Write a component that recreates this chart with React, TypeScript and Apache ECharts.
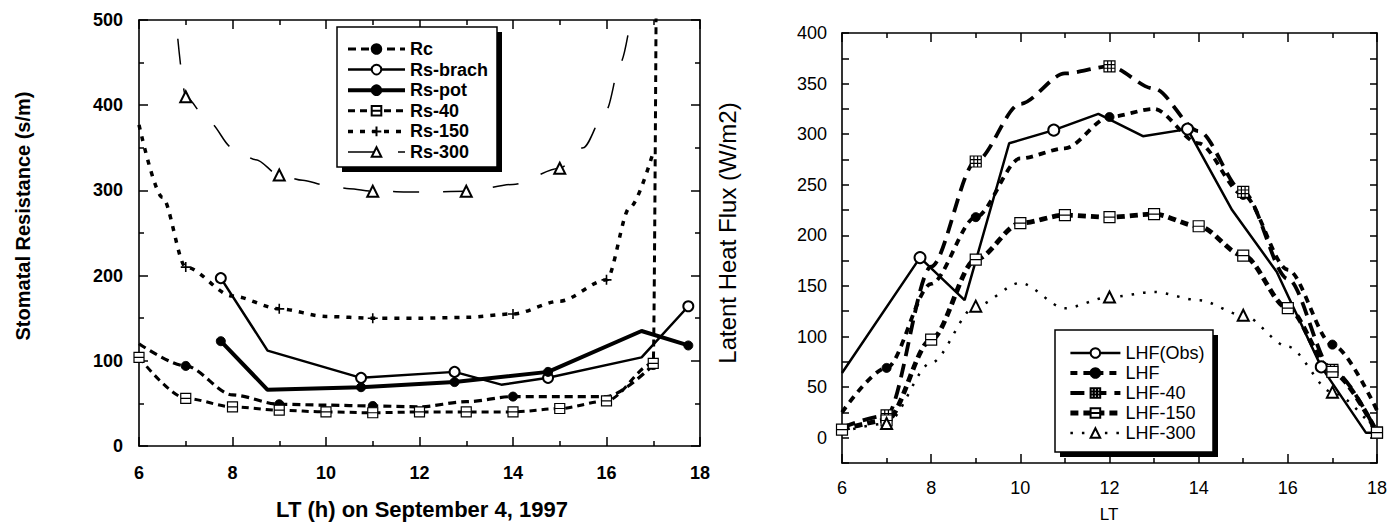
import React, { useEffect, useRef } from "react";
import * as echarts from "echarts";

const FONT = "'Liberation Sans', Arial, Helvetica, sans-serif";

// ---------- Left panel: stomatal resistance (s/m) ----------
const rcX = [6, 7, 8, 9, 10, 11, 12, 13, 14, 15, 16, 17];
const rcY = [120, 94, 60, 49, 48, 47, 46, 52, 58, 58, 58, 95];
const rcMarks = [7, 9, 11, 14, 17];

const brachX = [7.75, 8.75, 10.75, 12.75, 13.75, 14.75, 16.75, 17.75];
const brachY = [197, 112, 80, 87, 72, 80, 104, 164];
const brachMarks = [7.75, 10.75, 12.75, 14.75, 17.75];

const potX = [7.75, 8.75, 10.75, 12.75, 14.75, 16.75, 17.75];
const potY = [123, 66, 69, 75, 87, 135, 118];
const potMarks = [7.75, 10.75, 12.75, 14.75, 17.75];

const rs40X = [6, 7, 8, 9, 10, 11, 12, 13, 14, 15, 16, 17, 17.07];
const rs40Y = [104, 56, 46, 42, 40, 39, 40, 40, 40, 44, 53, 97, 600];
const rs40Marks = [6, 7, 8, 9, 10, 11, 12, 13, 14, 15, 16, 17];

const rs150X = [6, 6.5, 7, 8, 9, 10, 11, 12, 13, 14, 15, 16, 16.5, 17];
const rs150Y = [377, 292, 210, 176, 161, 152, 150, 150, 151, 155, 170, 195, 280, 345];
const rs150Marks = [7, 9, 11, 14, 16];

const rs300X = [6.83, 7, 7.5, 8, 8.5, 9, 9.5, 10, 10.5, 11, 12, 13, 14, 15, 15.5, 16, 16.3, 16.6];
const rs300Y = [478, 410, 380, 350, 336, 318, 312, 306, 302, 299, 298, 299, 307, 326, 350, 395, 450, 530];
const rs300Marks = [7, 9, 11, 13, 15];

const leftNames = ["Rc", "Rs-brach", "Rs-pot", "Rs-40", "Rs-150", "Rs-300"];

// ---------- Right panel: latent heat flux (W/m2) ----------
const obsX = [6, 7.75, 8.75, 9.75, 10.75, 11.75, 12.75, 13.75, 14.75, 15.75, 16.75, 17.75, 18];
const obsY = [64, 178, 136, 291, 304, 320, 298, 305, 225, 164, 70, 5, 5];
const obsMarks = [7.75, 10.75, 13.75, 16.75];

const hours = [6, 7, 8, 9, 10, 11, 12, 13, 14, 15, 16, 17, 18];
const lhfY = [25, 69, 152, 218, 276, 286, 317, 325, 291, 240, 166, 92, 27];
const lhfMarks = [7, 9, 12, 15, 17];
const lhf40Y = [10, 22, 169, 273, 330, 360, 367, 345, 303, 243, 157, 67, 5];
const lhf40Marks = [7, 9, 12, 15, 17, 18];
const lhf150Y = [8, 17, 97, 176, 212, 220, 218, 221, 209, 180, 128, 65, 5];
const lhf150Marks = [6, 7, 8, 9, 10, 11, 12, 13, 14, 15, 16, 17, 18];
const lhf300Y = [6, 14, 74, 130, 153, 128, 139, 144, 136, 121, 90, 45, 5];
const lhf300Marks = [7, 9, 12, 15, 17];

const rightNames = ["LHF(Obs)", "LHF", "LHF-40", "LHF-150", "LHF-300"];

// ---------- symbols ----------
const SYM_BOXH = "path://M0,0L10,0L10,10L0,10Z M0,5L10,5";
const SYM_GRID =
  "path://M0,0L10,0L10,10L0,10Z M0,3.33L10,3.33 M0,6.67L10,6.67 M3.33,0L3.33,10 M6.67,0L6.67,10";
const SYM_PLUS = "path://M5,0L5,10 M0,5L10,5";

function pts(xs: number[], ys: number[], marks: number[]) {
  return xs.map((x, i) =>
    marks.indexOf(x) >= 0 ? { value: [x, ys[i]] } : { value: [x, ys[i]], symbol: "none" }
  );
}

function mkSeries(
  name: string,
  idx: number,
  data: any[],
  symbol: string,
  size: number,
  width: number,
  type: any,
  smooth: number | boolean,
  item: any
) {
  return {
    type: "line",
    name,
    xAxisIndex: idx,
    yAxisIndex: idx,
    data,
    symbol,
    symbolSize: size,
    smooth,
    smoothMonotone: "x",
    clip: true,
    color: "#000",
    lineStyle: { color: "#000", width, type },
    itemStyle: item,
    emphasis: { disabled: true },
    z: 2,
  };
}

const openItem = { color: "#000", borderColor: "#000", borderWidth: 1.2 };
const filledItem = { color: "#000", borderColor: "#000", borderWidth: 1 };
const boxItem = { color: "#fff", borderColor: "#000", borderWidth: 1.2 };
const plusItem = { color: "rgba(0,0,0,0)", borderColor: "#000", borderWidth: 1.6 };

function axisCommon(bold: boolean, size: number, minor: boolean) {
  return {
    axisLine: { show: true, onZero: false, lineStyle: { color: "#000", width: 1.6 } },
    axisTick: { show: true, inside: true, length: 9, lineStyle: { color: "#000", width: 1.5 } },
    minorTick: { show: minor, splitNumber: 2, length: 5, lineStyle: { color: "#000", width: 1.5 } },
    splitLine: { show: false },
    minorSplitLine: { show: false },
    axisLabel: {
      color: "#000",
      fontFamily: FONT,
      fontSize: size,
      fontWeight: bold ? "bold" : "normal",
    },
  };
}

export default function App() {
  const ref = useRef<HTMLDivElement>(null);

  useEffect(() => {
    if (!ref.current) return;
    const chart = echarts.init(ref.current, undefined, { renderer: "svg" });

    const lc = axisCommon(true, 18, true);
    const rc = axisCommon(false, 18, true);
    const ry = axisCommon(false, 18, false);
    ry.axisTick.length = 7;

    const option: any = {
      animation: false,
      backgroundColor: "#fff",
      grid: [
        { left: 139, top: 20, width: 561, height: 426 },
        { left: 842, top: 33, width: 538, height: 430 },
      ],
      xAxis: [
        {
          ...lc,
          gridIndex: 0,
          type: "value",
          min: 6,
          max: 18,
          interval: 2,
          position: "bottom",
          axisLabel: { ...lc.axisLabel, margin: 18 },
        },
        {
          ...rc,
          gridIndex: 1,
          type: "value",
          min: 6,
          max: 18,
          interval: 2,
          position: "bottom",
          axisLabel: { ...rc.axisLabel, margin: 16 },
        },
        {
          ...lc,
          gridIndex: 0,
          type: "value",
          min: 6,
          max: 18,
          interval: 2,
          position: "top",
          axisLabel: { show: false },
        },
        {
          ...rc,
          gridIndex: 1,
          type: "value",
          min: 6,
          max: 18,
          interval: 2,
          position: "top",
          axisLabel: { show: false },
        },
      ],
      yAxis: [
        {
          ...lc,
          gridIndex: 0,
          type: "value",
          min: 0,
          max: 500,
          interval: 100,
          position: "left",
          axisLabel: { ...lc.axisLabel, margin: 16 },
        },
        {
          ...ry,
          gridIndex: 1,
          type: "value",
          min: -25,
          max: 400,
          interval: 25,
          position: "left",
          axisLabel: {
            ...ry.axisLabel,
            margin: 15,
            formatter: (v: number) => (v >= 0 && Math.round(v) % 50 === 0 ? String(v) : ""),
          },
        },
        {
          ...lc,
          gridIndex: 0,
          type: "value",
          min: 0,
          max: 500,
          interval: 100,
          position: "right",
          axisLabel: { show: false },
        },
        {
          ...ry,
          gridIndex: 1,
          type: "value",
          min: -25,
          max: 400,
          interval: 25,
          position: "right",
          axisLabel: { show: false },
        },
      ],
      legend: [
        {
          data: leftNames,
          orient: "vertical",
          left: 341,
          top: 35,
          itemWidth: 57,
          itemHeight: 12,
          itemGap: 2.6,
          selectedMode: false,
          z: 5,
          lineStyle: { width: "inherit" },
          textStyle: {
            color: "#000",
            fontFamily: FONT,
            fontSize: 18,
            fontWeight: "bold",
          },
        },
        {
          data: rightNames,
          orient: "vertical",
          left: 1063,
          top: 339,
          itemWidth: 50,
          itemHeight: 12,
          itemGap: 2,
          selectedMode: false,
          z: 5,
          lineStyle: { width: "inherit" },
          textStyle: {
            color: "#000",
            fontFamily: FONT,
            fontSize: 18,
          },
        },
      ],
      graphic: [
        // left legend frame with hard shadow
        { type: "rect", z: 3, shape: { x: 342, y: 32, width: 160, height: 140 }, style: { fill: "#000" } },
        {
          type: "rect",
          z: 3,
          shape: { x: 337, y: 27, width: 160, height: 140 },
          style: { fill: "#fff", stroke: "#000", lineWidth: 1.5 },
        },
        // right legend frame with hard shadow
        { type: "rect", z: 3, shape: { x: 1060, y: 335, width: 158, height: 122 }, style: { fill: "#000" } },
        {
          type: "rect",
          z: 3,
          shape: { x: 1055, y: 330, width: 158, height: 122 },
          style: { fill: "#fff", stroke: "#000", lineWidth: 1.5 },
        },
        {
          type: "text",
          x: 23,
          y: 216,
          rotation: Math.PI / 2,
          style: {
            text: "Stomatal Resistance (s/m)",
            fontFamily: FONT,
            fontSize: 20,
            fontWeight: "bold",
            fill: "#000",
            align: "center",
            verticalAlign: "middle",
          },
        },
        {
          type: "text",
          x: 422,
          y: 509,
          style: {
            text: "LT (h) on September 4, 1997",
            fontFamily: FONT,
            fontSize: 22,
            fontWeight: "bold",
            fill: "#000",
            align: "center",
            verticalAlign: "middle",
          },
        },
        {
          type: "text",
          x: 727,
          y: 233,
          rotation: Math.PI / 2,
          style: {
            text: "Latent Heat Flux (W/m2)",
            fontFamily: FONT,
            fontSize: 24,
            fill: "#000",
            align: "center",
            verticalAlign: "middle",
          },
        },
        {
          type: "text",
          x: 1109,
          y: 514,
          style: {
            text: "LT",
            fontFamily: FONT,
            fontSize: 17,
            fill: "#000",
            align: "center",
            verticalAlign: "middle",
          },
        },
      ],
      series: [
        mkSeries("Rc", 0, pts(rcX, rcY, rcMarks), "circle", 9, 3.2, [8, 5], 0.3, filledItem),
        mkSeries("Rs-brach", 0, pts(brachX, brachY, brachMarks), "emptyCircle", 10, 2.5, "solid", false, openItem),
        mkSeries("Rs-pot", 0, pts(potX, potY, potMarks), "circle", 9, 4, "solid", false, filledItem),
        mkSeries("Rs-40", 0, pts(rs40X, rs40Y, rs40Marks), SYM_BOXH, 10, 3, [7, 5], 0.3, boxItem),
        mkSeries("Rs-150", 0, pts(rs150X, rs150Y, rs150Marks), SYM_PLUS, 10, 3.5, [5, 7], 0.3, plusItem),
        mkSeries("Rs-300", 0, pts(rs300X, rs300Y, rs300Marks), "emptyTriangle", 11, 1.5, [26, 24], 0.3, openItem),

        mkSeries("LHF(Obs)", 1, pts(obsX, obsY, obsMarks), "emptyCircle", 11, 2.5, "solid", false, openItem),
        mkSeries("LHF", 1, pts(hours, lhfY, lhfMarks), "circle", 9, 3.8, [7, 6], 0.3, filledItem),
        mkSeries("LHF-40", 1, pts(hours, lhf40Y, lhf40Marks), SYM_GRID, 11, 3.8, [14, 8], 0.3, boxItem),
        mkSeries("LHF-150", 1, pts(hours, lhf150Y, lhf150Marks), SYM_BOXH, 11, 4.8, [8, 5], 0.3, boxItem),
        mkSeries("LHF-300", 1, pts(hours, lhf300Y, lhf300Marks), "emptyTriangle", 11, 2.5, [2.5, 9], 0.3, openItem),
      ],
    };

    chart.setOption(option);
    return () => chart.dispose();
  }, []);

  return (
    <div
      ref={ref}
      style={{ position: "fixed", left: 0, top: 0, width: 1390, height: 531, background: "#fff" }}
    />
  );
}
